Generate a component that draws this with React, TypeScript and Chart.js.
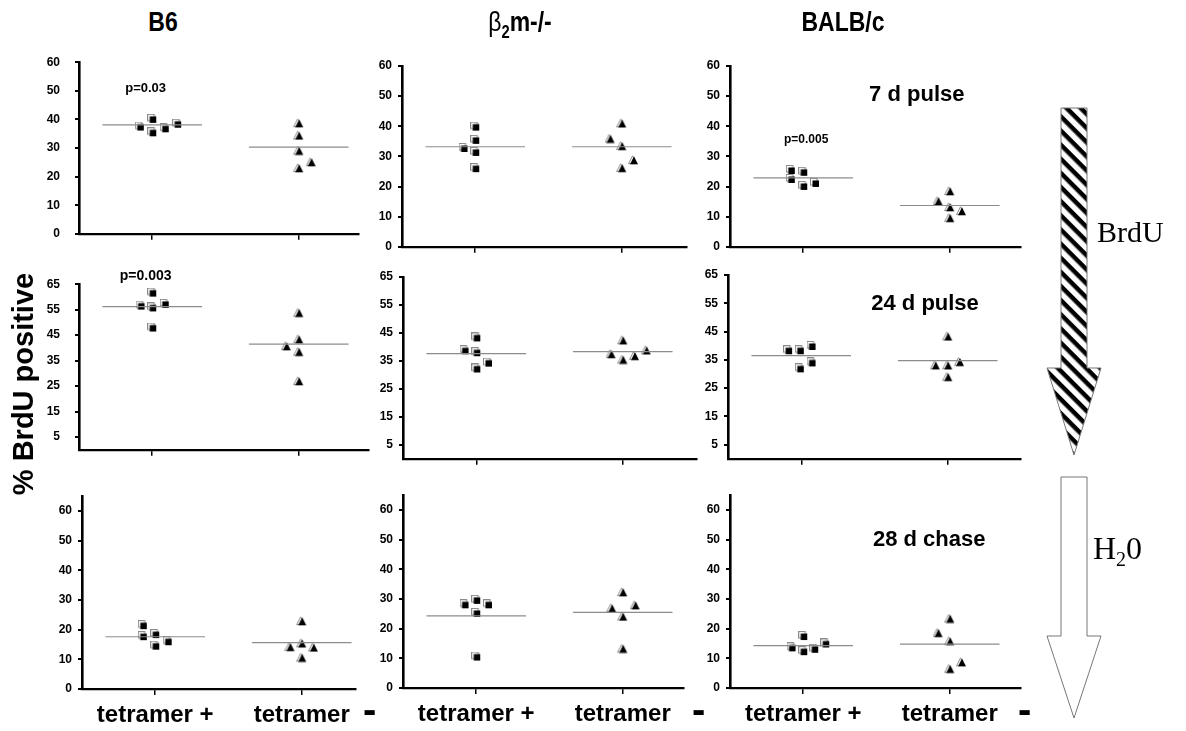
import React, { useEffect, useRef } from "react";
import { Chart, registerables } from "chart.js";

Chart.register(...registerables);

// ---------- DATA ----------
const categories = ["tetramer +", "tetramer"];
const strains = ["B6", "β2m-/-", "BALB/c"];
const phases = ["7 d pulse", "24 d pulse", "28 d chase"];

const ticks7d = [0, 10, 20, 30, 40, 50, 60];
const ticks24d = [5, 15, 25, 35, 45, 55, 65];
const ticks28d = [0, 10, 20, 30, 40, 50, 60];

// 7 d pulse
const b6Pulse7Plus = [37.5, 40.2, 35.5, 36.9, 38.5];
const b6Pulse7PlusDx = [-0.17, 0, 0, 0.17, 0.34];
const b6Pulse7Minus = [38.7, 34.4, 29.1, 23.0, 25.1];
const b6Pulse7MinusDx = [0, 0, 0, 0, 0.17];
const b2mPulse7Plus = [39.9, 35.5, 31.5, 32.8, 26.1];
const b2mPulse7PlusDx = [0, 0, 0, -0.16, 0];
const b2mPulse7Minus = [35.9, 41.0, 33.5, 26.2, 28.8];
const b2mPulse7MinusDx = [-0.16, 0, 0, 0, 0.16];
const balbPulse7Plus = [25.5, 22.5, 24.9, 20.2, 21.2];
const balbPulse7PlusDx = [-0.17, -0.17, 0, 0, 0.16];
const balbPulse7Minus = [18.5, 15.2, 13.2, 9.6, 11.9];
const balbPulse7MinusDx = [0, -0.16, 0, 0, 0.16];
const meansPulse7Plus = [38.1, 33.2, 22.9];
const meansPulse7Minus = [30.3, 33.2, 13.7];

// 24 d pulse
const b6Pulse24Plus = [61.7, 56.6, 55.9, 57.3, 48.0];
const b6Pulse24PlusDx = [0, -0.16, 0, 0.17, 0];
const b6Pulse24Minus = [53.8, 43.4, 40.7, 38.5, 27.0];
const b6Pulse24MinusDx = [0, 0, -0.17, 0, 0];
const b2mPulse24Plus = [43.4, 38.8, 38.1, 32.3, 34.4];
const b2mPulse24PlusDx = [0, -0.16, 0, 0, 0.16];
const b2mPulse24Minus = [37.5, 42.4, 35.5, 36.8, 38.8];
const b2mPulse24MinusDx = [-0.16, 0, 0, 0.16, 0.32];
const balbPulse24Plus = [38.4, 38.4, 39.9, 32.0, 34.1];
const balbPulse24PlusDx = [-0.18, -0.02, 0.14, -0.02, 0.14];
const balbPulse24Minus = [43.3, 33.1, 33.1, 34.3, 29.0];
const balbPulse24MinusDx = [0, -0.17, 0, 0.16, 0];
const meansPulse24Plus = [56.2, 37.6, 36.5];
const meansPulse24Minus = [41.5, 38.3, 34.7];

// 28 d chase
const b6Chase28Plus = [21.5, 17.8, 18.5, 14.6, 16.1];
const b6Chase28PlusDx = [-0.17, -0.17, 0, 0, 0.17];
const b6Chase28Minus = [22.9, 14.2, 15.4, 14.0, 10.6];
const b6Chase28MinusDx = [0, -0.16, 0, 0.16, 0];
const b2mChase28Plus = [28.2, 29.7, 28.2, 25.3, 10.6];
const b2mChase28PlusDx = [-0.16, 0, 0.16, 0, 0];
const b2mChase28Minus = [32.3, 26.9, 27.9, 24.1, 13.3];
const b2mChase28MinusDx = [0, -0.15, 0.17, 0, 0];
const balbChase28Plus = [17.5, 13.7, 12.4, 13.2, 15.0];
const balbChase28PlusDx = [0, -0.16, 0, 0.15, 0.3];
const balbChase28Minus = [23.4, 18.6, 15.8, 8.7, 6.5];
const balbChase28MinusDx = [0, -0.16, 0, 0.16, 0];
const meansChase28Plus = [17.6, 24.3, 14.3];
const meansChase28Minus = [15.6, 25.5, 14.8];

const pValues = ["p=0.03", "p=0.003", "p=0.005"];

// ---------- LAYOUT (page pixels) ----------
const FONT = "'Liberation Sans', Arial, Helvetica, sans-serif";
const YW = 40;
const PAD_TOP = 22;
const PAD_RIGHT = 4;

type Note = { text: string; x: number; y: number; size: number };
type Panel = {
  axisX: number; top: number; bottom: number; right: number;
  yMax: number; xMax: number; ticks: number[]; gap: number;
  plus: number[]; plusDx: number[]; minus: number[]; minusDx: number[];
  meanPlus: number; meanMinus: number; notes: Note[]; bottomRow: boolean;
};

const rowGeom = [
  { ticks: ticks7d, yMax: 60, tops: [62, 66, 66], bottoms: [246, 250, 250], axes: [79, 402, 730], rights: [360, 688, 1022], bottomRow: false },
  { ticks: ticks24d, yMax: 65, tops: [284, 277, 275], bottoms: [462, 462, 462], axes: [79, 403, 728], rights: [370, 698, 1022], bottomRow: false },
  { ticks: ticks28d, yMax: 65, tops: [496, 495, 495], bottoms: [689, 688, 688], axes: [82, 403, 730], rights: [357, 685, 1022], bottomRow: true },
];
const PX_PER_UNIT = 73.5;
const gaps = [[19, 10, 10], [19, 10, 10], [10, 10, 10]];

const rowData = [
  {
    plus: [b6Pulse7Plus, b2mPulse7Plus, balbPulse7Plus],
    plusDx: [b6Pulse7PlusDx, b2mPulse7PlusDx, balbPulse7PlusDx],
    minus: [b6Pulse7Minus, b2mPulse7Minus, balbPulse7Minus],
    minusDx: [b6Pulse7MinusDx, b2mPulse7MinusDx, balbPulse7MinusDx],
    meanPlus: meansPulse7Plus, meanMinus: meansPulse7Minus,
  },
  {
    plus: [b6Pulse24Plus, b2mPulse24Plus, balbPulse24Plus],
    plusDx: [b6Pulse24PlusDx, b2mPulse24PlusDx, balbPulse24PlusDx],
    minus: [b6Pulse24Minus, b2mPulse24Minus, balbPulse24Minus],
    minusDx: [b6Pulse24MinusDx, b2mPulse24MinusDx, balbPulse24MinusDx],
    meanPlus: meansPulse24Plus, meanMinus: meansPulse24Minus,
  },
  {
    plus: [b6Chase28Plus, b2mChase28Plus, balbChase28Plus],
    plusDx: [b6Chase28PlusDx, b2mChase28PlusDx, balbChase28PlusDx],
    minus: [b6Chase28Minus, b2mChase28Minus, balbChase28Minus],
    minusDx: [b6Chase28MinusDx, b2mChase28MinusDx, balbChase28MinusDx],
    meanPlus: meansChase28Plus, meanMinus: meansChase28Minus,
  },
];

// annotation placement in data coordinates, per [row][col]
const notesAt: Note[][][] = [
  [[{ text: pValues[0], x: 0.91, y: 51, size: 13 }], [], [{ text: pValues[2], x: 1.04, y: 35.5, size: 12 }, { text: phases[0], x: 2.55, y: 50.5, size: 22 }]],
  [[{ text: pValues[1], x: 0.91, y: 68, size: 14 }], [], [{ text: phases[1], x: 2.69, y: 54.6, size: 22 }]],
  [[], [], [{ text: phases[2], x: 2.72, y: 49.9, size: 22 }]],
];

const panels: Panel[] = [];
for (let r = 0; r < 3; r++) {
  for (let c = 0; c < 3; c++) {
    const g = rowGeom[r];
    const d = rowData[r];
    panels.push({
      axisX: g.axes[c], top: g.tops[c], bottom: g.bottoms[c], right: g.rights[c],
      yMax: g.yMax, xMax: (g.rights[c] - g.axes[c]) / PX_PER_UNIT, ticks: g.ticks, gap: gaps[r][c],
      plus: d.plus[c], plusDx: d.plusDx[c], minus: d.minus[c], minusDx: d.minusDx[c],
      meanPlus: d.meanPlus[c], meanMinus: d.meanMinus[c], notes: notesAt[r][c], bottomRow: g.bottomRow,
    });
  }
}

const CAT_X = [1, 3];
const HALF_LINE = 0.68;

function makeSquareIcon() {
  const cv = document.createElement("canvas");
  cv.width = 10; cv.height = 10;
  const ctx = cv.getContext("2d")!;
  ctx.fillStyle = "#ffffff";
  ctx.strokeStyle = "#8a8a8a";
  ctx.lineWidth = 1;
  ctx.fillRect(0.5, 0.5, 6.5, 6.5);
  ctx.strokeRect(0.5, 0.5, 6.5, 6.5);
  ctx.fillStyle = "#000000";
  ctx.fillRect(2.5, 2.5, 6.5, 6.5);
  return cv;
}
function makeTriangleIcon() {
  const cv = document.createElement("canvas");
  cv.width = 11; cv.height = 10;
  const ctx = cv.getContext("2d")!;
  ctx.fillStyle = "#ffffff";
  ctx.strokeStyle = "#8a8a8a";
  ctx.lineWidth = 1;
  ctx.beginPath();
  ctx.moveTo(4.5, 0.8); ctx.lineTo(0.6, 8.6); ctx.lineTo(8.4, 8.6); ctx.closePath();
  ctx.fill(); ctx.stroke();
  ctx.fillStyle = "#000000";
  ctx.beginPath();
  ctx.moveTo(6, 1.2); ctx.lineTo(2, 9.2); ctx.lineTo(10, 9.2); ctx.closePath();
  ctx.fill();
  return cv;
}

const notesPlugin = {
  id: "notes",
  afterDatasetsDraw(chart: any, _args: any, opts: any) {
    const notes: Note[] = opts.items || [];
    const ctx = chart.ctx;
    ctx.save();
    ctx.fillStyle = "#000";
    ctx.textAlign = "center";
    ctx.textBaseline = "middle";
    for (const n of notes) {
      ctx.font = `bold ${n.size}px ${FONT}`;
      ctx.fillText(n.text, chart.scales.x.getPixelForValue(n.x), chart.scales.y.getPixelForValue(n.y));
    }
    ctx.restore();
  },
};

function PanelChart({ p }: { p: Panel }) {
  const ref = useRef<HTMLCanvasElement>(null);
  const XH = p.bottomRow ? 44 : 10;
  const width = YW + (p.right - p.axisX) + PAD_RIGHT;
  const height = PAD_TOP + (p.bottom - p.top) + XH;
  useEffect(() => {
    const sq = makeSquareIcon();
    const tri = makeTriangleIcon();
    const plusPts = p.plus.map((v, i) => ({ x: CAT_X[0] + p.plusDx[i], y: v }));
    const minusPts = p.minus.map((v, i) => ({ x: CAT_X[1] + p.minusDx[i], y: v }));
    const lineStyle = { showLine: true, pointRadius: 0, borderColor: "#8c8c8c", borderWidth: 1.2, fill: false };
    const chart = new Chart(ref.current!, {
      type: "scatter",
      data: {
        datasets: [
          { label: "mean +", data: [{ x: CAT_X[0] - HALF_LINE, y: p.meanPlus }, { x: CAT_X[0] + HALF_LINE, y: p.meanPlus }], ...lineStyle } as any,
          { label: "mean -", data: [{ x: CAT_X[1] - HALF_LINE, y: p.meanMinus }, { x: CAT_X[1] + HALF_LINE, y: p.meanMinus }], ...lineStyle } as any,
          { label: categories[0], data: plusPts, pointStyle: sq as any, pointRadius: 4, pointHoverRadius: 4 },
          { label: categories[1], data: minusPts, pointStyle: tri as any, pointRadius: 4, pointHoverRadius: 4 },
        ],
      },
      options: {
        responsive: false,
        animation: false,
        devicePixelRatio: 1,
        events: [],
        layout: { padding: { top: PAD_TOP, right: PAD_RIGHT, left: 0, bottom: 0 } },
        plugins: { legend: { display: false }, tooltip: { enabled: false }, notes: { items: p.notes } } as any,
        scales: {
          x: {
            type: "linear",
            min: 0,
            max: p.xMax,
            afterFit: (s: any) => { s.height = XH; },
            afterBuildTicks: (s: any) => { s.ticks = CAT_X.map((v) => ({ value: v })); },
            grid: { drawOnChartArea: false, drawTicks: true, tickLength: 6, color: "#000", lineWidth: 1.5 },
            border: { display: true, color: "#000", width: 2.2 },
            ticks: {
              display: p.bottomRow,
              autoSkip: false,
              maxRotation: 0,
              padding: 6,
              color: "#000",
              font: { family: FONT, size: 24, weight: "bold" },
              callback: (v: any) => (v === CAT_X[0] ? categories[0] : categories[1]),
            },
          },
          y: {
            type: "linear",
            min: 0,
            max: p.yMax,
            afterFit: (s: any) => { s.width = YW; },
            afterBuildTicks: (s: any) => { s.ticks = p.ticks.map((v) => ({ value: v })); },
            grid: { drawOnChartArea: false, drawTicks: true, tickLength: 4, color: "#000", lineWidth: 2 },
            border: { display: true, color: "#000", width: 2.6 },
            ticks: { padding: p.gap - 4, color: "#000", font: { family: FONT, size: 12, weight: "bold" } },
          },
        },
      },
      plugins: [notesPlugin],
    });
    return () => chart.destroy();
  }, [p]);
  return (
    <canvas
      ref={ref}
      width={width}
      height={height}
      style={{ position: "absolute", left: p.axisX - YW, top: p.top - PAD_TOP, width, height }}
    />
  );
}

const titleCenters = [163, 520, 843];
const dashLefts = [363, 692, 1018];

export default function App() {
  return (
    <div style={{ position: "absolute", left: 0, top: 0, width: 1186, height: 731, background: "#fff", overflow: "hidden", fontFamily: FONT }}>
      {panels.map((p, i) => <PanelChart key={i} p={p} />)}

      {strains.map((s, i) => (
        <div key={s} style={{ position: "absolute", left: titleCenters[i] - 100, top: 6, width: 200, textAlign: "center", fontSize: 28, fontWeight: "bold", lineHeight: "32px", transform: "scaleX(0.82)" }}>
          {i === 1 ? (<span><span style={{ fontWeight: "normal" }}>β</span><sub style={{ fontSize: 18 }}>2</sub>m-/-</span>) : s}
        </div>
      ))}

      <div style={{ position: "absolute", left: 23 - 170, top: 384 - 18, width: 340, height: 36, textAlign: "center", fontSize: 29, fontWeight: "bold", lineHeight: "36px", transform: "rotate(-90deg)" }}>
        % BrdU positive
      </div>

      {dashLefts.map((x, i) => (
        <div key={i} style={{ position: "absolute", left: x, top: 689, fontSize: 40, lineHeight: "40px", fontWeight: "bold" }}>-</div>
      ))}

      <svg style={{ position: "absolute", left: 0, top: 0 }} width={1186} height={731}>
        <defs>
          <pattern id="hatch" patternUnits="userSpaceOnUse" width="10" height="10" patternTransform="rotate(45)">
            <rect x="0" y="0" width="10" height="10" fill="#fff" />
            <rect x="0" y="0" width="10" height="4.5" fill="#000" />
          </pattern>
        </defs>
        <polygon points="1061,108 1087,108 1087,368 1101,368 1074,455 1047,368 1061,368" fill="url(#hatch)" stroke="#777" strokeWidth="1" />
        <polygon points="1061,477 1087,477 1087,636 1101,636 1074,718 1047,636 1061,636" fill="#fff" stroke="#777" strokeWidth="1" />
      </svg>

      <div style={{ position: "absolute", left: 1097, top: 214, fontFamily: "'Liberation Serif', 'Times New Roman', serif", fontSize: 30, lineHeight: "36px" }}>BrdU</div>
      <div style={{ position: "absolute", left: 1093, top: 530, fontFamily: "'Liberation Serif', 'Times New Roman', serif", fontSize: 32, lineHeight: "36px" }}>
        H<sub style={{ fontSize: 20 }}>2</sub>0
      </div>
    </div>
  );
}
